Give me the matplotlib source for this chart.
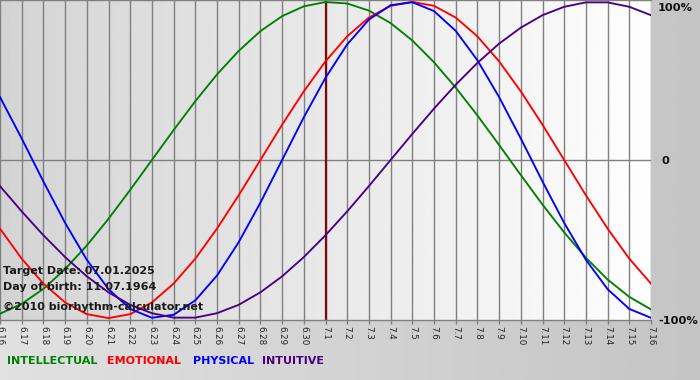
import matplotlib

matplotlib.use("Agg")
import matplotlib.pyplot as plt
import numpy as np

# days shown on the x axis (month.day), target date is 7.1
day_labels = [
    "6.16", "6.17", "6.18", "6.19", "6.20", "6.21", "6.22", "6.23", "6.24", "6.25",
    "6.26", "6.27", "6.28", "6.29", "6.30", "7.1", "7.2", "7.3", "7.4", "7.5",
    "7.6", "7.7", "7.8", "7.9", "7.10", "7.11", "7.12", "7.13", "7.14", "7.15", "7.16",
]
target_label = "7.1"

intellectual = [
    -0.972, -0.910, -0.815, -0.690, -0.541, -0.372, -0.189, 0.000, 0.189, 0.372,
    0.541, 0.690, 0.815, 0.910, 0.972, 0.999, 0.990, 0.945, 0.866, 0.756,
    0.618, 0.458, 0.282, 0.095, -0.095, -0.282, -0.458, -0.618, -0.756, -0.866, -0.945,
]
emotional = [
    -0.434, -0.624, -0.782, -0.901, -0.975, -1.000, -0.975, -0.901, -0.782, -0.624,
    -0.434, -0.223, 0.000, 0.223, 0.434, 0.624, 0.782, 0.901, 0.975, 1.000,
    0.975, 0.901, 0.782, 0.624, 0.434, 0.223, 0.000, -0.223, -0.434, -0.624, -0.782,
]
physical = [
    0.398, 0.136, -0.136, -0.398, -0.631, -0.817, -0.942, -0.998, -0.979, -0.888,
    -0.731, -0.520, -0.270, 0.000, 0.270, 0.520, 0.731, 0.888, 0.979, 0.998,
    0.942, 0.817, 0.631, 0.398, 0.136, -0.136, -0.398, -0.631, -0.817, -0.942, -0.998,
]
intuitive = [
    -0.165, -0.325, -0.476, -0.614, -0.736, -0.837, -0.916, -0.969, -0.997, -0.997,
    -0.969, -0.916, -0.837, -0.736, -0.614, -0.476, -0.325, -0.165, 0.000, 0.165,
    0.325, 0.476, 0.614, 0.736, 0.837, 0.916, 0.969, 0.997, 0.997, 0.969, 0.916,
]

series_names = ["INTELLECTUAL", "EMOTIONAL", "PHYSICAL", "INTUITIVE"]
series_colors = ["#008000", "#ff0000", "#0000ff", "#4b0082"]

W, H = 700, 380
fig = plt.figure(figsize=(W / 100, H / 100), dpi=100)

# figure background: soft horizontal gray gradient
bg = fig.add_axes((0, 0, 1, 1), zorder=-10)
grad = np.linspace(0.88, 0.77, 256).reshape(1, -1)
bg.imshow(grad, cmap="gray", vmin=0, vmax=1, aspect="auto", extent=(0, 1, 0, 1))
bg.axis("off")

plot_right = 651
plot_bottom = 320
ax = fig.add_axes((0, (H - plot_bottom) / H, plot_right / W, plot_bottom / H))

x = np.arange(len(day_labels))
ylim = (-1.012, 1.012)

# plot area gradient from light gray to white
pgrad = np.linspace(0.83, 0.995, 256).reshape(1, -1)
ax.imshow(pgrad, cmap="gray", vmin=0, vmax=1, aspect="auto",
          extent=(0, len(x) - 1, ylim[0], ylim[1]), zorder=0)

for xi in x:
    ax.axvline(xi, color="#808080", lw=1.0, zorder=1)
ax.axhline(0, color="#808080", lw=1.0, zorder=1)

ax.axvline(day_labels.index(target_label), color="#7a0a0a", lw=1.6, zorder=2)

for vals, c in zip([intellectual, emotional, physical, intuitive], series_colors):
    ax.plot(x, vals, color=c, lw=1.35, zorder=3, solid_joinstyle="round")

ax.set_xlim(0, len(x) - 1)
ax.set_ylim(*ylim)
ax.set_yticks([])
ax.set_xticks(x)
ax.set_xticklabels(day_labels, rotation=270, fontsize=6.3, color="#222222")
ax.tick_params(axis="x", length=3, width=1, color="#808080", pad=1.5)
for side in ("left", "right"):
    ax.spines[side].set_visible(False)
for side in ("top", "bottom"):
    ax.spines[side].set_color("#808080")
    ax.spines[side].set_linewidth(1)


def px(xp, yp):
    return xp / W, 1 - yp / H


# right side percentage labels
for label, xp, yp in [("100%", 658, 8), ("0", 661, 161), ("-100%", 658, 321)]:
    fig.text(*px(xp, yp), label, fontsize=8.2, fontweight="bold",
             color="#111111", ha="left", va="center")

# info text in the lower left corner of the plot
for label, yp in [("Target Date: 07.01.2025", 271),
                  ("Day of birth: 11.07.1964", 287),
                  ("\u00a92010 biorhythm-calculator.net", 307)]:
    fig.text(*px(3, yp), label, fontsize=8, fontweight="bold",
             color="#1a1a1a", ha="left", va="center", zorder=5)

# legend row
legend_x = [7, 107, 193, 262]
for name, c, xp in zip(series_names, series_colors, legend_x):
    fig.text(*px(xp, 361), name, fontsize=8, fontweight="bold", color=c,
             ha="left", va="center")

fig.savefig("out.png", dpi=100)
